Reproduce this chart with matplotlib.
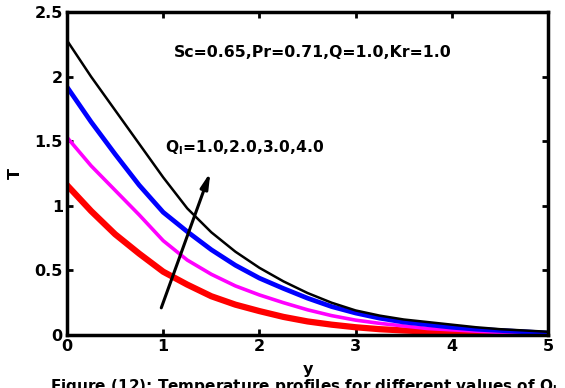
import matplotlib.pyplot as plt

# data
y_vals = [0.0, 0.25, 0.5, 0.75, 1.0, 1.25, 1.5, 1.75, 2.0, 2.25, 2.5,
          2.75, 3.0, 3.25, 3.5, 3.75, 4.0, 4.25, 4.5, 4.75, 5.0]
T_q1 = [1.16, 0.96, 0.78, 0.63, 0.49, 0.39, 0.30, 0.235, 0.185, 0.14, 0.105,
        0.08, 0.06, 0.045, 0.035, 0.027, 0.02, 0.015, 0.011, 0.008, 0.005]
T_q2 = [1.53, 1.31, 1.12, 0.93, 0.73, 0.58, 0.47, 0.38, 0.31, 0.25, 0.195,
        0.15, 0.115, 0.09, 0.07, 0.05, 0.04, 0.03, 0.02, 0.015, 0.01]
T_q3 = [1.92, 1.65, 1.40, 1.16, 0.95, 0.80, 0.66, 0.54, 0.44, 0.36, 0.285,
        0.22, 0.17, 0.13, 0.10, 0.08, 0.06, 0.045, 0.035, 0.025, 0.015]
T_q4 = [2.28, 2.00, 1.74, 1.48, 1.22, 0.98, 0.795, 0.645, 0.52, 0.415, 0.325,
        0.25, 0.19, 0.15, 0.12, 0.10, 0.08, 0.06, 0.045, 0.035, 0.025]

x_ticks = [0, 1, 2, 3, 4, 5]
y_ticks = [0, 0.5, 1, 1.5, 2, 2.5]
y_tick_labels = ["0", "0.5", "1", "1.5", "2", "2.5"]

plt.rcParams["font.family"] = "DejaVu Sans"
plt.rcParams["font.weight"] = "bold"

fig = plt.figure(figsize=(5.65, 3.88), dpi=100)
ax = fig.add_axes([0.1186, 0.1366, 0.8514, 0.8324])

ax.plot(y_vals, T_q1, color="red", lw=4.5)
ax.plot(y_vals, T_q2, color="magenta", lw=2.6)
ax.plot(y_vals, T_q3, color="blue", lw=3.4)
ax.plot(y_vals, T_q4, color="black", lw=1.8)

ax.annotate("", xy=(1.5, 1.28), xytext=(0.97, 0.19),
            arrowprops=dict(arrowstyle="-|>,head_length=0.9,head_width=0.22",
                            color="black", lw=2.2))

ax.text(2.55, 2.19, "Sc=0.65,Pr=0.71,Q=1.0,Kr=1.0", ha="center", va="center",
        fontsize=11.3, fontweight="bold")
ax.text(1.02, 1.45, r"Q$_\mathbf{l}$=1.0,2.0,3.0,4.0", ha="left", va="center",
        fontsize=11.2, fontweight="bold")

ax.set_xlim(0, 5)
ax.set_ylim(0, 2.5)
ax.set_xticks(x_ticks)
ax.set_yticks(y_ticks)
ax.set_yticklabels(y_tick_labels)
ax.tick_params(direction="in", length=4, width=2, top=True, right=True,
               labelsize=11.5, pad=3)
for s in ax.spines.values():
    s.set_linewidth(2.5)

ax.set_xlabel("y", fontsize=11.5, fontweight="bold", labelpad=6)
ax.set_ylabel("T", fontsize=11.5, fontweight="bold", labelpad=8)

fig.text(50 / 565, (388 - 377) / 388, "Figure (12): Temperature profiles for different values of Q$_\\mathbf{l}$",
         ha="left", va="top", fontsize=11, fontweight="bold")

fig.savefig("out.png", dpi=100)
